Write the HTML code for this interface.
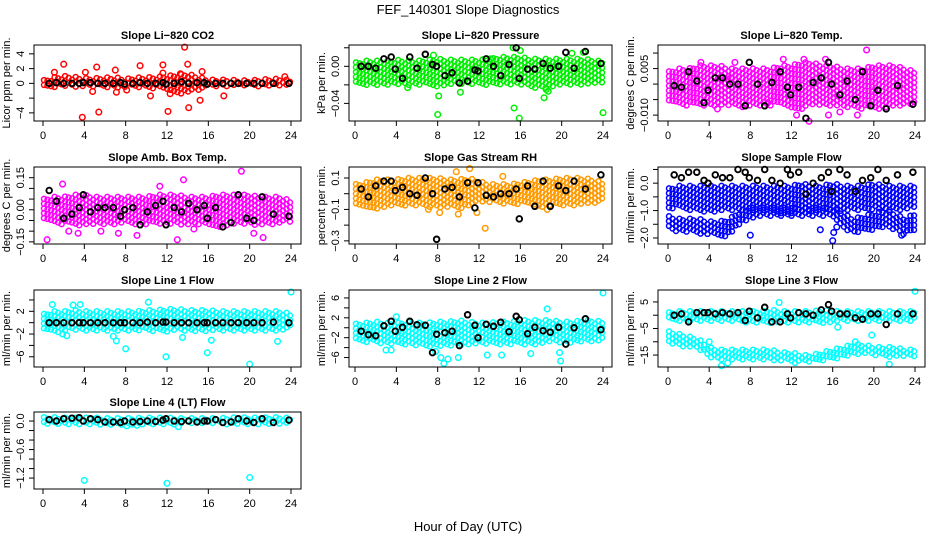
<!DOCTYPE html>
<html><head><meta charset="utf-8"><style>
html,body{margin:0;padding:0;background:#fff;}
svg{display:block;font-family:"Liberation Sans",sans-serif;}
</style></head><body>
<svg id="chart" width="936" height="540" viewBox="0 0 936 540" xmlns="http://www.w3.org/2000/svg">
<rect x="0" y="0" width="936" height="540" fill="#fff"/>
<text x="468" y="14" text-anchor="middle" font-size="13">FEF_140301  Slope Diagnostics</text>
<text x="468" y="531" text-anchor="middle" font-size="13">Hour of Day (UTC)</text>
</svg>
<script>
// ---------- data ----------
const xTicks = [0,4,8,12,16,20,24];
const blkHours = [0.6,1.3,2.0,2.8,3.5,3.9,4.6,5.3,6.0,6.8,7.5,7.9,8.7,9.4,10.1,10.9,11.6,11.9,12.7,13.4,14.1,14.9,15.6,15.9,16.7,17.4,18.2,18.9,19.7,20.4,21.2,22.3,23.8];

// CO2
const co2Lo = [-0.4,-0.5,-0.6,-0.5,-0.5,-0.6,-0.5,-0.6,-0.5,-0.6,-0.6,-0.7,-1.2,-1.5,-1.5,-1.0,-0.5,-0.5,-0.4,-0.4,-0.4,-0.4,-0.4,-0.4,-0.4];
const co2Hi = [0.4,0.8,1.0,0.9,0.7,0.7,0.8,0.8,0.6,0.8,0.8,0.9,1.0,1.2,1.3,0.9,0.5,0.5,0.5,0.4,0.4,0.5,0.6,0.6,0.4];
const co2OutX = [1.1,2.0,3.8,4.1,4.8,5.2,5.4,7.0,7.1,8.1,9.4,10.4,11.6,11.6,12.1,12.3,13.3,13.7,14.0,14.1,15.2,15.4,17.5,23.4];
const co2OutY = [1.5,2.6,-4.6,1.5,-1.1,2.2,-3.9,1.8,-1.2,-0.9,2.4,-1.7,2.5,1.4,-3.8,-1.4,1.3,4.9,2.6,-3.3,-2.3,1.6,-1.7,0.9];
const co2Blk = [0,0.1,0,0,0,0.1,0.1,0,0,0,0.1,-0.1,0,0.1,0,0,0.1,-0.1,0,0.2,0,0.1,0.1,-0.1,0,0,0,0,0,0,0,0,0];

// Pressure
const presLo = [-0.018,-0.02,-0.02,-0.02,-0.02,-0.02,-0.02,-0.02,-0.022,-0.02,-0.02,-0.02,-0.02,-0.02,-0.02,-0.02,-0.02,-0.022,-0.025,-0.022,-0.02,-0.02,-0.02,-0.02,-0.02];
const presHi = [0.004,0.006,0.006,0.006,0.007,0.006,0.006,0.007,0.008,0.007,0.007,0.007,0.007,0.008,0.01,0.01,0.01,0.008,0.008,0.008,0.008,0.008,0.008,0.007,0.005];
const presOutX = [8.0,8.1,10.2,15.4,15.9,18.3,18.7,24.0,7.6,15.3,16.0,13.1,21.0,22.1,18.5,5.1];
const presOutY = [-0.052,-0.032,-0.028,-0.045,-0.056,-0.034,-0.027,-0.05,0.012,0.02,0.017,0.008,0.014,0.015,-0.025,-0.023];
const presBlk = [0,0,-0.002,0.008,0.01,-0.003,-0.013,0.01,-0.002,0.013,0.002,0.0,-0.01,-0.007,-0.018,-0.016,-0.004,-0.005,0.008,0,-0.01,0.002,0.02,-0.013,-0.003,-0.003,0.003,-0.002,0,0.015,-0.002,0.016,0.003];

// Temp
const tempLo = [-0.006,-0.007,-0.007,-0.007,-0.007,-0.007,-0.007,-0.008,-0.007,-0.007,-0.007,-0.007,-0.008,-0.008,-0.007,-0.007,-0.007,-0.007,-0.008,-0.008,-0.008,-0.008,-0.007,-0.007,-0.006];
const tempHi = [0.004,0.005,0.005,0.006,0.006,0.006,0.005,0.005,0.005,0.005,0.005,0.006,0.006,0.007,0.007,0.006,0.006,0.005,0.005,0.005,0.006,0.006,0.006,0.005,0.004];
const tempOutX = [6.5,11.2,12.5,13.2,13.7,15.6,16.7,18.4,19.3,15.3,4.8,3.2,9.7,6.1];
const tempOutY = [0.007,0.008,-0.01,0.008,-0.012,-0.01,-0.009,-0.01,0.011,0.008,-0.008,0.007,-0.006,0.002];
const tempBlk = [-0.0005,-0.001,0.004,0.001,-0.006,-0.002,0.002,0.002,0.0,0.0,-0.007,0.007,0.0,-0.007,0.0005,0.004,-0.001,-0.0035,-0.001,-0.011,0.0005,0.002,0.007,0.0,-0.0035,0.001,-0.005,0.004,-0.007,-0.002,-0.008,-0.0005,-0.0065];

// Amb box temp
const ambLo = [-0.06,-0.07,-0.07,-0.07,-0.08,-0.07,-0.07,-0.07,-0.06,-0.07,-0.07,-0.07,-0.07,-0.07,-0.07,-0.07,-0.07,-0.08,-0.08,-0.07,-0.07,-0.07,-0.07,-0.06,-0.06];
const ambHi = [0.05,0.06,0.06,0.07,0.07,0.06,0.06,0.06,0.06,0.06,0.06,0.07,0.07,0.07,0.06,0.06,0.06,0.07,0.07,0.07,0.07,0.06,0.06,0.06,0.04];
const ambOutX = [0.4,2.5,3.4,5.6,7.3,9.1,13.0,13.6,14.6,19.2,21.3,20.4,1.9,11.3];
const ambOutY = [-0.14,-0.1,-0.11,-0.1,-0.11,-0.12,-0.14,0.14,-0.09,0.18,-0.13,-0.11,0.12,0.11];
const ambBlk = [0.09,0.04,-0.04,-0.02,0.01,0.07,-0.01,0.01,0.01,0.01,-0.03,0.0,0.01,-0.07,-0.01,0.02,0.04,-0.07,0.01,-0.01,0.03,0.0,0.02,-0.04,0.01,-0.08,-0.06,0.07,-0.04,-0.05,0.06,-0.02,-0.03];

// Gas RH
const rhLo = [-0.06,-0.08,-0.1,-0.09,-0.08,-0.08,-0.08,-0.08,-0.1,-0.09,-0.1,-0.09,-0.06,-0.06,-0.06,-0.07,-0.07,-0.07,-0.09,-0.08,-0.08,-0.08,-0.07,-0.07,-0.05];
const rhHi = [0.06,0.07,0.09,0.09,0.09,0.1,0.1,0.1,0.1,0.09,0.09,0.1,0.08,0.06,0.06,0.06,0.07,0.08,0.09,0.09,0.1,0.1,0.1,0.09,0.07];
const rhOutX = [8.2,10.0,11.8,12.6,14.3,9.8,11.1,18.6,7.1];
const rhOutY = [-0.12,-0.13,-0.12,-0.22,0.11,0.14,0.16,-0.1,-0.1];
const rhBlk = [0.03,-0.02,0.05,0.08,0.08,0.02,0.04,0.0,-0.01,0.1,0.0,-0.29,0.03,0.04,-0.02,0.07,-0.09,0.07,-0.01,-0.02,0.0,0.0,0.03,-0.16,0.05,-0.08,0.08,-0.08,0.05,0.02,0.08,0.03,0.12];

// Sample flow
const sfLo = [-1.0,-0.9,-1.0,-1.0,-1.1,-1.0,-1.0,-1.0,-1.0,-1.0,-1.0,-1.1,-1.1,-1.1,-1.0,-1.0,-1.1,-1.0,-1.0,-1.0,-1.0,-1.0,-1.0,-1.0,-0.9];
const sfHi = [-0.2,-0.1,-0.1,-0.1,-0.1,-0.1,-0.1,-0.1,-0.1,-0.1,-0.1,-0.1,-0.1,0.0,-0.1,-0.1,0.0,-0.1,-0.1,-0.1,0.0,-0.1,-0.1,-0.1,-0.1];
const sfLo2 = [-1.7,-1.8,-1.8,-1.9,-1.9,-2.0,-1.9,-1.5,-1.3,-1.2,-1.2,-1.2,-1.2,-1.2,-1.2,-1.2,-1.3,-1.7,-1.8,-1.8,-1.7,-1.6,-1.7,-1.9,-1.7];
const sfHi2 = [-1.2,-1.3,-1.3,-1.3,-1.4,-1.4,-1.3,-1.0,-0.9,-0.9,-0.9,-0.9,-0.9,-0.9,-0.9,-0.9,-0.9,-1.1,-1.3,-1.2,-1.1,-1.0,-1.1,-1.3,-1.1];
const sfOutX = [16.0,16.1,16.4,14.8,8.0,22.7];
const sfOutY = [-2.1,-1.8,-1.6,-1.7,-1.9,-1.9];
const sfBlk = [0.3,0.2,0.4,0.4,0.1,0.0,0.3,0.2,0.2,0.5,0.4,0.2,0.1,0.5,0.1,0.0,0.5,0.3,0.4,-0.4,0.0,0.2,0.4,-0.3,0.5,0.3,-0.3,0.1,0.2,0.5,0.1,0.3,0.4];

// Line 1 flow
const l1Lo = [-1.5,-1.8,-1.5,-1.5,-1.5,-1.5,-1.5,-1.6,-1.5,-1.5,-1.5,-1.5,-1.6,-1.5,-1.6,-1.5,-1.5,-1.5,-1.5,-1.5,-1.5,-1.5,-1.5,-1.5,-1.2];
const l1Hi = [1.5,2.0,2.0,2.2,2.0,2.0,2.0,2.0,2.0,2.0,2.2,2.2,2.4,2.4,2.2,2.2,2.2,2.0,2.0,2.0,2.0,2.0,2.0,2.0,1.5];
const l1OutX = [1.9,2.3,6.8,7.1,8.0,11.9,13.5,15.9,16.3,20.0,22.7,24.0,0.9,2.9,3.6,10.2];
const l1OutY = [-2.0,-2.3,-2.4,-3.2,-4.6,-6.0,-2.6,-5.3,-3.1,-7.3,-3.3,5.4,3.2,3.1,3.2,3.6];
const l1Blk = [0,0,0,0,0,0,0,0,0,0,0,0,0,0,0.1,0,0.1,0.1,0,0,0,0,0,0,0,0,0,0,0,0,0,0.1,0];

// Line 2 flow
const l2Lo = [-2.5,-3.0,-3.0,-3.5,-3.5,-3.5,-3.5,-3.8,-4.0,-3.8,-3.5,-3.5,-3.5,-3.5,-3.5,-3.5,-3.5,-3.5,-3.5,-3.0,-3.0,-3.0,-3.0,-3.0,-2.5];
const l2Hi = [0.8,1.0,1.2,1.0,1.0,1.2,1.0,1.0,1.2,1.2,1.5,1.2,1.0,1.0,1.2,1.2,1.5,1.5,1.5,1.5,1.2,1.2,1.5,1.5,1.2];
const l2OutX = [3.0,3.5,7.8,8.3,8.6,9.0,10.0,12.8,14.2,17.0,19.8,19.9,24.0,4.0,18.6];
const l2OutY = [-4.5,-4.5,-4.8,-6.0,-7.2,-6.3,-6.0,-5.5,-5.5,-5.2,-5.0,-6.7,7.0,2.2,3.8];
const l2Blk = [-0.7,-1.4,-1.6,0.4,1.3,-0.7,0.1,1.3,0.6,0.5,-5.0,-1.3,-1.0,-0.7,-3.6,2.6,0.5,-2.0,0.7,0.3,1.1,-0.8,2.3,1.6,-1.2,0.1,-0.6,-0.9,0.1,-3.3,0.0,1.8,-0.4];

// Line 3 flow
const l3Lo = [-2.0,-2.5,-2.5,-2.5,-2.5,-2.5,-2.5,-2.5,-3.0,-3.0,-3.0,-3.0,-3.0,-3.0,-3.0,-3.0,-2.5,-2.5,-2.5,-2.5,-2.5,-2.5,-2.5,-2.5,-2.0];
const l3Hi = [1.0,1.5,1.5,1.5,1.5,1.5,1.5,1.5,1.5,1.5,2.0,1.5,1.5,1.5,1.5,2.0,1.5,1.5,1.5,1.5,1.5,1.5,1.5,1.5,1.5];
const l3Lo2 = [-10,-12,-12,-13,-16,-17,-17,-17,-17,-17,-17,-17,-18,-18,-18,-17,-17,-16,-15,-15,-15,-16,-16,-16,-16];
const l3Hi2 = [-6,-7,-8,-9,-12,-13,-13,-13,-13,-13,-13,-14,-14,-15,-15,-14,-13,-12,-11,-11,-12,-12,-12,-13,-13];
const l3OutX = [5.2,5.8,21.5,10.8,18.2,19.8,24.0,4.0,16.5];
const l3OutY = [-19,-18,-18.5,4.8,-10,-7.5,9.0,-10,-4.5];
const l3Blk = [0,0.5,-2.5,1,1,1,0.5,1,0.5,1,-2,1.5,-1,3,-2.5,-2.5,0.5,-1,1,0.5,0,2,4,1.5,0.5,0.5,-1,-1.5,0.5,0.5,-3.5,0.5,0.5];

// Line 4 flow
const l4Lo = [-0.06,-0.07,-0.07,-0.07,-0.07,-0.07,-0.08,-0.08,-0.08,-0.08,-0.07,-0.07,-0.07,-0.08,-0.07,-0.07,-0.07,-0.07,-0.07,-0.07,-0.07,-0.07,-0.07,-0.08,-0.06];
const l4Hi = [0.08,0.08,0.07,0.07,0.07,0.07,0.06,0.06,0.06,0.06,0.07,0.07,0.07,0.06,0.06,0.06,0.06,0.06,0.07,0.08,0.07,0.07,0.08,0.08,0.06];
const l4OutX = [4.0,12.0,20.0,13.1,8.1,9.1];
const l4OutY = [-1.25,-1.31,-1.19,-0.12,-0.1,-0.09];
const l4Blk = [0.03,0.0,0.05,0.06,0.07,0.0,0.05,0.03,-0.02,-0.02,-0.03,0.0,-0.02,-0.01,0.0,-0.01,0.02,0.05,0.0,-0.01,0.0,-0.02,0.0,0.0,0.03,-0.03,-0.02,0.05,0.0,-0.03,0.05,-0.03,0.02];

// ---------- rendering ----------
const NS = "http://www.w3.org/2000/svg";
const svg = document.getElementById("chart");
function mk(tag, attrs, parent){
  const e = document.createElementNS(NS, tag);
  for (const k in attrs) e.setAttribute(k, attrs[k]);
  parent.appendChild(e);
  return e;
}
const COLS = [{l:34,r:301,x0:43,x24:291},{l:349,r:612,x0:355,x24:603},{l:658,r:925,x0:668,x24:915}];
const ROWS = [{t:45,b:121},{t:167,b:244},{t:290,b:367},{t:412,b:489}];

const panels = [
 {key:"co2",title:"Slope Li\u2212820 CO2",ylab:"Licor ppm per min.",col:0,row:0,ymin:-5.1,ymax:5.2,ticks:[-4,-2,0,2,4],labs:["\u22124","","0","2","4"],color:"#ff0000",bands:[[co2Lo,co2Hi]],ox:co2OutX,oy:co2OutY,blk:co2Blk},
 {key:"pressure",title:"Slope Li\u2212820 Pressure",ylab:"kPa per min.",col:1,row:0,ymin:-0.059,ymax:0.023,ticks:[-0.04,-0.02,0,0.02],labs:["\u22120.04","","0.00",""],color:"#00ee00",bands:[[presLo,presHi]],ox:presOutX,oy:presOutY,blk:presBlk},
 {key:"temp",title:"Slope Li\u2212820 Temp.",ylab:"degrees C per min.",col:2,row:0,ymin:-0.0119,ymax:0.0126,ticks:[-0.01,-0.005,0,0.005,0.01],labs:["\u22120.010","","","0.005",""],color:"#ff00ff",bands:[[tempLo,tempHi]],ox:tempOutX,oy:tempOutY,blk:tempBlk},
 {key:"amb-temp",title:"Slope Amb. Box Temp.",ylab:"degrees C per min.",col:0,row:1,ymin:-0.16,ymax:0.2,ticks:[-0.15,-0.1,-0.05,0,0.05,0.1,0.15],labs:["\u22120.15","","","0.00","","","0.15"],color:"#ff00ff",bands:[[ambLo,ambHi]],ox:ambOutX,oy:ambOutY,blk:ambBlk},
 {key:"gas-rh",title:"Slope Gas Stream RH",ylab:"percent per min.",col:1,row:1,ymin:-0.32,ymax:0.17,ticks:[-0.3,-0.2,-0.1,0,0.1],labs:["\u22120.3","","\u22120.1","","0.1"],color:"#ff9a00",bands:[[rhLo,rhHi]],ox:rhOutX,oy:rhOutY,blk:rhBlk},
 {key:"sample-flow",title:"Slope Sample Flow",ylab:"ml/min per min.",col:2,row:1,ymin:-2.22,ymax:0.59,ticks:[-2,-1.5,-1,-0.5,0,0.5],labs:["\u22122.0","","\u22121.0","","0.0",""],color:"#0000ff",bands:[[sfLo,sfHi],[sfLo2,sfHi2]],ox:sfOutX,oy:sfOutY,blk:sfBlk},
 {key:"line1",title:"Slope Line 1 Flow",ylab:"ml/min per min.",col:0,row:2,ymin:-7.8,ymax:5.75,ticks:[-6,-4,-2,0,2,4],labs:["\u22126","","\u22122","","2",""],color:"#00ffff",bands:[[l1Lo,l1Hi]],ox:l1OutX,oy:l1OutY,blk:l1Blk},
 {key:"line2",title:"Slope Line 2 Flow",ylab:"ml/min per min.",col:1,row:2,ymin:-7.9,ymax:7.6,ticks:[-6,-4,-2,0,2,4,6],labs:["\u22126","","\u22122","","2","","6"],color:"#00ffff",bands:[[l2Lo,l2Hi]],ox:l2OutX,oy:l2OutY,blk:l2Blk},
 {key:"line3",title:"Slope Line 3 Flow",ylab:"ml/min per min.",col:2,row:2,ymin:-19.5,ymax:9.5,ticks:[-15,-10,-5,0,5],labs:["\u221215","","\u22125","","5"],color:"#00ffff",bands:[[l3Lo,l3Hi],[l3Lo2,l3Hi2]],ox:l3OutX,oy:l3OutY,blk:l3Blk},
 {key:"line4",title:"Slope Line 4 (LT) Flow",ylab:"ml/min per min.",col:0,row:3,ymin:-1.43,ymax:0.19,ticks:[-1.2,-1.0,-0.8,-0.6,-0.4,-0.2,0],labs:["\u22121.2","","","\u22120.6","","","0.0"],color:"#00ffff",bands:[[l4Lo,l4Hi]],ox:l4OutX,oy:l4OutY,blk:l4Blk}
];

function interp(arr, h){
  const i = Math.min(Math.floor(h), 23), f = h - i;
  return arr[i]*(1-f) + arr[i+1]*f;
}

panels.forEach(p => {
  const C = COLS[p.col], R = ROWS[p.row];
  const sx = h => C.x0 + h*(C.x24 - C.x0)/24;
  const sy = v => R.t + (p.ymax - v)*(R.b - R.t)/(p.ymax - p.ymin);
  const g = mk("g", {}, svg);
  
  
  const pts = mk("g", {fill:"none", stroke:p.color, "stroke-width":"1.5"}, g);
  
  
  // band clouds (sparser texture)
  p.bands.forEach(([lo, hi]) => {
    let c = 0;
    for (let h = 0.1; h <= 23.9; h += 0.34, c++) {
      const yt = sy(interp(hi, h)), yb = sy(interp(lo, h));
      const off = (c % 3) * 1.6;
      for (let y = yt + off; y <= yb; y += 4.8) {
        mk("circle", {cx:sx(h).toFixed(1), cy:y.toFixed(1), r:"2.5"}, pts);
      }
    }
  });
  // outliers
  p.ox.forEach((h, i) => {
    const o = mk("circle", {cx:sx(h).toFixed(1), cy:sy(p.oy[i]).toFixed(1), r:"2.8"}, pts);
    
    
  });
  // black points
  const bg = mk("g", {fill:"none", stroke:"#000", "stroke-width":"1.9"}, g);
  
  
  blkHours.forEach((h, i) => {
    mk("circle", {cx:sx(h).toFixed(1), cy:sy(p.blk[i]).toFixed(1), r:"2.8"}, bg);
  });
  // box
  const box = mk("rect", {x:C.l, y:R.t, width:C.r - C.l, height:R.b - R.t, fill:"none", stroke:"#000", "stroke-width":"1"}, g);
  
  
  // title
  const t = mk("text", {x:(C.l + C.r)/2, y:R.t - 6, "text-anchor":"middle", "font-size":"11", "font-weight":"bold"}, g);
  t.textContent = p.title;
  
  
  // x axis
  const xa = mk("g", {stroke:"#000", "stroke-width":"1"}, g);
  
  
  mk("line", {x1:sx(0), x2:sx(24), y1:R.b, y2:R.b}, xa);
  xTicks.forEach(v => {
    mk("line", {x1:sx(v), x2:sx(v), y1:R.b, y2:R.b + 5}, xa);
    const tl = mk("text", {x:sx(v), y:R.b + 18, "text-anchor":"middle", "font-size":"11", stroke:"none", fill:"#000"}, xa);
    tl.textContent = v;
    
    
  });
  // y axis
  const ya = mk("g", {stroke:"#000", "stroke-width":"1"}, g);
  
  
  mk("line", {x1:C.l, x2:C.l, y1:sy(p.ticks[0]), y2:sy(p.ticks[p.ticks.length-1])}, ya);
  p.ticks.forEach((v, i) => {
    const y = sy(v);
    mk("line", {x1:C.l - 5, x2:C.l, y1:y, y2:y}, ya);
    if (p.labs[i]) {
      const lx = C.l - 13;
      const tl = mk("text", {x:lx, y:y, transform:`rotate(-90 ${lx} ${y})`, "text-anchor":"middle", "dominant-baseline":"central", "font-size":"11", stroke:"none", fill:"#000"}, ya);
      tl.textContent = p.labs[i];
      
      
    }
  });
  const tx = C.l - 27, ty = (R.t + R.b)/2;
  const yt = mk("text", {x:tx, y:ty, transform:`rotate(-90 ${tx} ${ty})`, "text-anchor":"middle", "dominant-baseline":"central", "font-size":"11"}, g);
  yt.textContent = p.ylab;
  
  
});
</script>
</body></html>
